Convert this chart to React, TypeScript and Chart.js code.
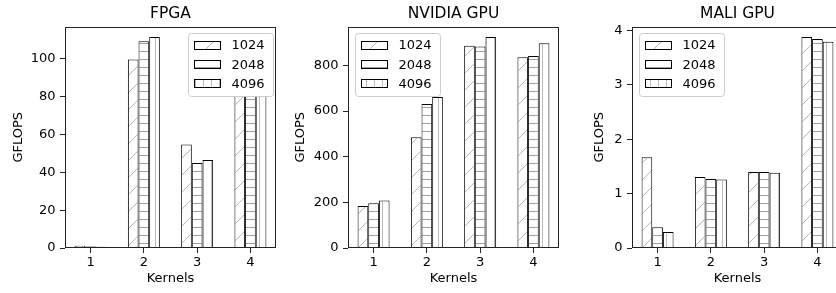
import React, { useEffect, useRef } from 'react';
import { Chart, registerables } from 'chart.js';

Chart.register(...registerables);

// ---------- data ----------
const categories = ['1', '2', '3', '4'];
const categoryPositions = [1, 2, 3, 4];
const sizeLabels = ['1024', '2048', '4096'];

const fpga1024 = [1.2, 99.7, 54.8, 95];
const fpga2048 = [0.8, 109.4, 45.0, 100];
const fpga4096 = [0.7, 111.6, 46.5, 104];

const nvidia1024 = [184, 485, 886, 835];
const nvidia2048 = [196, 631, 883, 841];
const nvidia4096 = [208, 661, 924, 897];

const mali1024 = [1.67, 1.305, 1.397, 3.878];
const mali2048 = [0.38, 1.268, 1.397, 3.84];
const mali4096 = [0.294, 1.257, 1.385, 3.79];

const panelTitles = ['FPGA', 'NVIDIA GPU', 'MALI GPU'];
const fpgaYTicks = [0, 20, 40, 60, 80, 100];
const nvidiaYTicks = [0, 200, 400, 600, 800];
const maliYTicks = [0, 1, 2, 3, 4];

// ---------- styling ----------
const FONT = "'DejaVu Sans', 'Liberation Sans', sans-serif";
const BAR_WIDTH = 0.2;
const GROUP_HALF = (BAR_WIDTH * 3) / 2;
const X_SPAN = categoryPositions[categoryPositions.length - 1] - categoryPositions[0] + 2 * GROUP_HALF;
const X_MIN = categoryPositions[0] - GROUP_HALF - 0.05 * X_SPAN;
const X_MAX = categoryPositions[categoryPositions.length - 1] + GROUP_HALF + 0.05 * X_SPAN;

function makePattern(kind: string): CanvasPattern | string {
  const c = document.createElement('canvas');
  const size = kind === '/' ? 17 : 8;
  c.width = size;
  c.height = size;
  const g = c.getContext('2d');
  if (!g) return '#fff';
  g.fillStyle = '#ffffff';
  g.fillRect(0, 0, size, size);
  if (kind === '/') {
    g.strokeStyle = '#b8b8b8';
    g.lineWidth = 1;
    for (const k of [-size, 0, size]) {
      g.beginPath();
      g.moveTo(k, size);
      g.lineTo(k + size, 0);
      g.stroke();
    }
  } else if (kind === '-') {
    g.fillStyle = '#a0a0a0';
    g.fillRect(0, 3, size, 1);
  } else {
    g.fillStyle = '#bcbcbc';
    g.fillRect(3, 0, 1, size);
  }
  const p = g.createPattern(c, 'repeat');
  return p || '#fff';
}

const framePlugin = {
  id: 'axesFrame',
  afterDatasetsDraw(chart: any) {
    const { ctx, chartArea } = chart;
    const l = Math.round(chartArea.left) + 0.5;
    const r = Math.round(chartArea.right) - 0.5;
    const t = Math.round(chartArea.top) + 0.5;
    const b = Math.round(chartArea.bottom) - 0.5;
    ctx.save();
    ctx.strokeStyle = '#222';
    ctx.lineWidth = 1;
    ctx.strokeRect(l, t, r - l, b - t);
    ctx.restore();
  },
};

const legendPlugin = {
  id: 'hatchLegend',
  afterDraw(chart: any, _args: any, opts: any) {
    const { ctx, chartArea } = chart;
    const w = 85;
    const h = 63;
    const x =
      opts.side === 'right'
        ? Math.round(chartArea.right - 3 - w) + 0.5
        : Math.round(chartArea.left + 6.5) + 0.5;
    const y = Math.round(chartArea.top + 6) + 0.5;
    const rad = 3;
    ctx.save();
    ctx.beginPath();
    ctx.moveTo(x + rad, y);
    ctx.lineTo(x + w - rad, y);
    ctx.arcTo(x + w, y, x + w, y + rad, rad);
    ctx.lineTo(x + w, y + h - rad);
    ctx.arcTo(x + w, y + h, x + w - rad, y + h, rad);
    ctx.lineTo(x + rad, y + h);
    ctx.arcTo(x, y + h, x, y + h - rad, rad);
    ctx.lineTo(x, y + rad);
    ctx.arcTo(x, y, x + rad, y, rad);
    ctx.closePath();
    ctx.fillStyle = '#ffffff';
    ctx.fill();
    ctx.strokeStyle = '#cccccc';
    ctx.lineWidth = 1;
    ctx.stroke();

    chart.data.datasets.forEach((ds: any, i: number) => {
      const cy = y + 12 + i * 19.2;
      const px = Math.round(x + 5);
      const pw = 27;
      const ph = 9;
      const py = Math.round(cy - ph / 2);
      ctx.fillStyle = ds.backgroundColor;
      ctx.fillRect(px, py, pw, ph);
      ctx.strokeStyle = '#000';
      ctx.lineWidth = 1;
      ctx.strokeRect(px + 0.5, py + 0.5, pw - 1, ph - 1);
      ctx.fillStyle = '#000';
      ctx.font = `13px ${FONT}`;
      ctx.textBaseline = 'middle';
      ctx.textAlign = 'left';
      ctx.fillText(ds.label, px + pw + 10.5, cy + 0.5);
    });
    ctx.restore();
  },
};

type PanelProps = {
  index: number;
  series: number[][];
  yTicks: number[];
  left: number;
  legendSide: 'left' | 'right';
  yTitlePad: number;
};

function Panel({ index, series, yTicks, left, legendSide, yTitlePad }: PanelProps) {
  const ref = useRef<HTMLCanvasElement | null>(null);

  useEffect(() => {
    const canvas = ref.current;
    if (!canvas) return;
    const patterns = [makePattern('/'), makePattern('-'), makePattern('|')];
    const allValues = series.flat();
    const yMax = Math.max(...allValues) * 1.05;
    const tickFont = { family: FONT, size: 13 };

    const chart = new Chart(canvas, {
      type: 'bar',
      data: {
        datasets: series.map((vals, i) => ({
          label: sizeLabels[i],
          data: vals.map((v, j) => ({ x: categoryPositions[j], y: v })),
          backgroundColor: patterns[i] as any,
          borderColor: '#000',
          borderWidth: 1,
          borderSkipped: 'start',
          categoryPercentage: BAR_WIDTH * 3,
          barPercentage: 1,
        })),
      },
      options: {
        animation: false,
        responsive: false,
        maintainAspectRatio: false,
        events: [],
        layout: { padding: { left: 0, right: 7, top: 0, bottom: 0 } },
        plugins: {
          legend: { display: false },
          tooltip: { enabled: false },
          title: {
            display: true,
            text: panelTitles[index],
            fullSize: false,
            color: '#000',
            font: { family: FONT, size: 15.5, weight: 'normal' },
            padding: { top: 4.2, bottom: 3.7 },
          },
          hatchLegend: { side: legendSide },
        } as any,
        scales: {
          x: {
            type: 'linear',
            min: X_MIN,
            max: X_MAX,
            offset: false,
            grid: {
              offset: false,
              drawOnChartArea: false,
              drawTicks: true,
              tickLength: 5,
              color: '#222',
              tickColor: '#222',
            },
            border: { display: false },
            ticks: {
              font: tickFont,
              color: '#000',
              padding: 2,
              autoSkip: false,
              maxRotation: 0,
              callback: (_v: any, i: number) => categories[i],
            },
            afterBuildTicks: (s: any) => {
              s.ticks = categoryPositions.map((v) => ({ value: v }));
            },
            afterFit: (s: any) => {
              s.height = 45;
            },
            title: {
              display: true,
              text: 'Kernels',
              color: '#000',
              font: tickFont,
              padding: { top: 0, bottom: 6.2 },
            },
          } as any,
          y: {
            type: 'linear',
            min: 0,
            max: yMax,
            grid: {
              drawOnChartArea: false,
              drawTicks: true,
              tickLength: 5,
              color: '#222',
              tickColor: '#222',
            },
            border: { display: false },
            ticks: {
              font: tickFont,
              color: '#000',
              padding: 4.5,
              autoSkip: false,
              callback: (v: any) => String(v),
            },
            afterBuildTicks: (s: any) => {
              s.ticks = yTicks.map((v) => ({ value: v }));
            },
            afterFit: (s: any) => {
              s.width = 65;
            },
            title: {
              display: true,
              text: 'GFLOPS',
              color: '#000',
              font: tickFont,
              padding: { top: yTitlePad, bottom: 0 },
            },
          } as any,
        },
      },
      plugins: [framePlugin, legendPlugin],
    });
    return () => chart.destroy();
  }, []);

  return (
    <canvas
      ref={ref}
      width={283}
      height={293}
      style={{ position: 'absolute', left, top: 0, width: 283, height: 293 }}
    />
  );
}

export default function App() {
  return (
    <div
      style={{
        position: 'fixed',
        left: 0,
        top: 0,
        width: 836,
        height: 293,
        overflow: 'hidden',
        background: '#fff',
      }}
    >
      <Panel index={0} series={[fpga1024, fpga2048, fpga4096]} yTicks={fpgaYTicks} left={0} legendSide="right" yTitlePad={11} />
      <Panel index={1} series={[nvidia1024, nvidia2048, nvidia4096]} yTicks={nvidiaYTicks} left={283} legendSide="left" yTitlePad={10} />
      <Panel index={2} series={[mali1024, mali2048, mali4096]} yTicks={maliYTicks} left={567} legendSide="left" yTitlePad={25} />
    </div>
  );
}
